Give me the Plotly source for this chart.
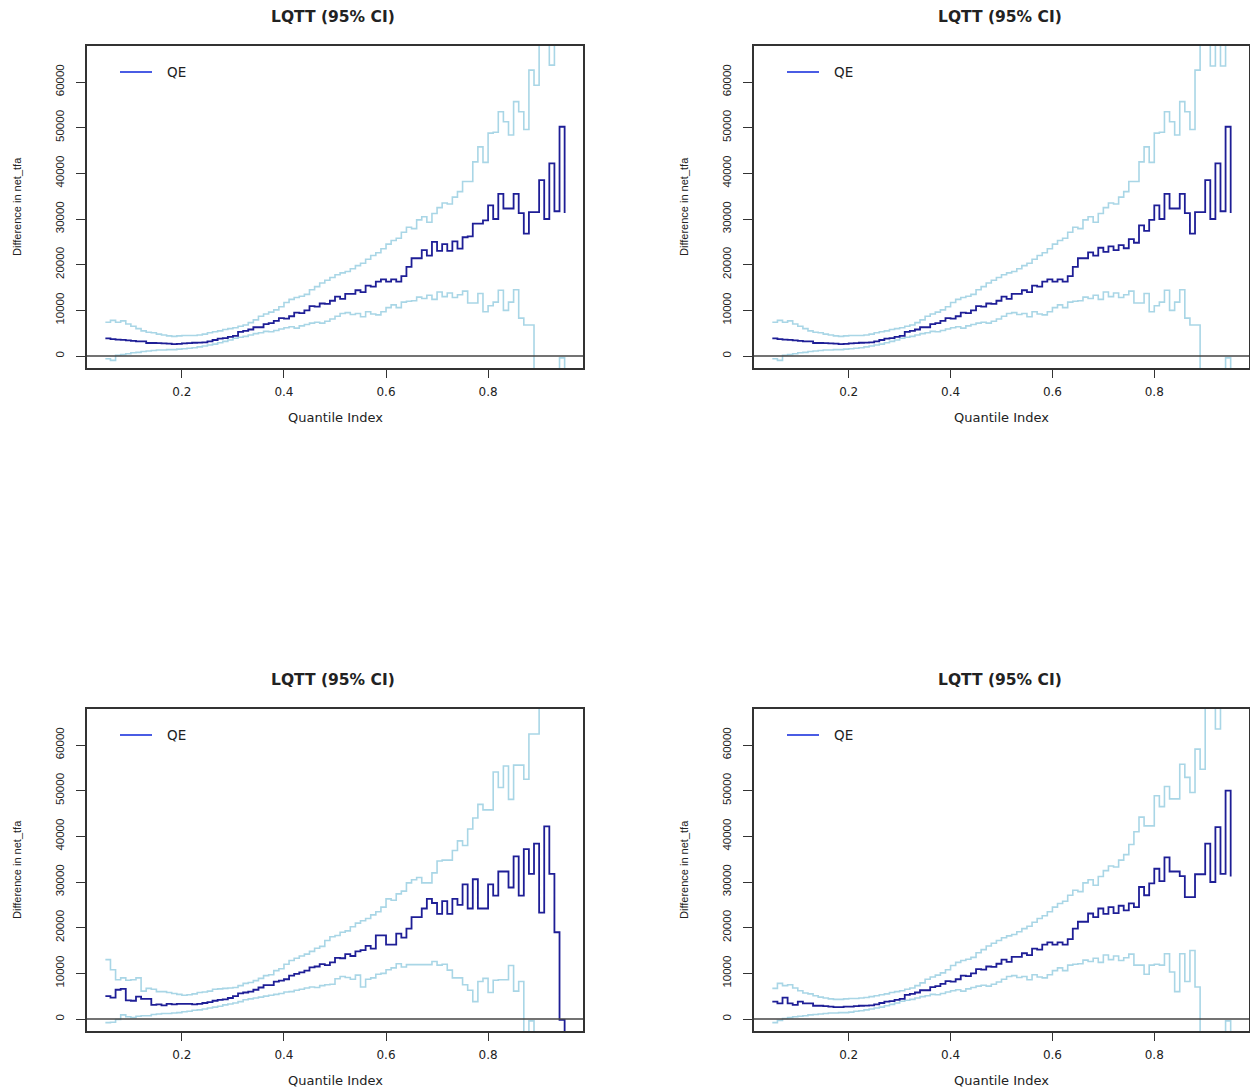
import plotly.graph_objects as go

# ---------------- data ----------------
quantiles = [0.05, 0.06, 0.07, 0.08, 0.09, 0.10, 0.11, 0.12, 0.13, 0.14,
             0.15, 0.16, 0.17, 0.18, 0.19, 0.20, 0.21, 0.22, 0.23, 0.24,
             0.25, 0.26, 0.27, 0.28, 0.29, 0.30, 0.31, 0.32, 0.33, 0.34,
             0.35, 0.36, 0.37, 0.38, 0.39, 0.40, 0.41, 0.42, 0.43, 0.44,
             0.45, 0.46, 0.47, 0.48, 0.49, 0.50, 0.51, 0.52, 0.53, 0.54,
             0.55, 0.56, 0.57, 0.58, 0.59, 0.60, 0.61, 0.62, 0.63, 0.64,
             0.65, 0.66, 0.67, 0.68, 0.69, 0.70, 0.71, 0.72, 0.73, 0.74,
             0.75, 0.76, 0.77, 0.78, 0.79, 0.80, 0.81, 0.82, 0.83, 0.84,
             0.85, 0.86, 0.87, 0.88, 0.89, 0.90, 0.91, 0.92, 0.93, 0.94,
             0.95]

# top-left panel
qe_tl = [3850, 3700, 3600, 3550, 3400, 3300, 3200, 3200, 2850, 2850,
         2800, 2750, 2700, 2600, 2650, 2750, 2800, 2900, 2950, 3000,
         3200, 3500, 3800, 3900, 4200, 4400, 5300, 5500, 5800, 6300,
         6300, 7000, 7200, 7700, 8300, 8200, 8700, 9500, 9400, 10000,
         10900, 10800, 11500, 11400, 12100, 13000, 12500, 13600, 13600, 14400,
         14000, 15400, 15200, 16300, 16800, 16300, 16800, 16300, 17500, 19500,
         21400, 21400, 23200, 22000, 25000, 23000, 24500, 23000, 25100, 23500,
         26000, 26200, 29000, 29000, 29700, 33000, 30000, 35500, 32300, 32300,
         35500, 31300, 26800, 31500, 31500, 38500, 30000, 42200, 31700, 50200,
         31300]
upper_tl = [7400, 7800, 7400, 7700, 7000, 6500, 6000, 5500, 5200, 5100,
            4800, 4600, 4400, 4300, 4400, 4500, 4500, 4500, 4600, 4800,
            5100, 5300, 5500, 5800, 6000, 6200, 6500, 6800, 7300, 7900,
            8700, 9200, 9600, 10100, 10800, 11700, 12400, 12800, 13100, 13500,
            14500, 15200, 16000, 16600, 17200, 17800, 18200, 18500, 19100, 19800,
            20300, 21200, 22000, 22600, 23500, 24500, 25300, 25800, 27100, 28200,
            27900, 29800, 30500, 29300, 31200, 32500, 33500, 33300, 34800, 36000,
            38200, 38200, 42500, 45800, 42400, 48800, 49000, 53500, 51300, 48400,
            55700, 53500, 49600, 62600, 59300, 75000, 75000, 63700, 75000, 75000,
            75000]
lower_tl = [-600, -950, 150, 300, 500, 700, 800, 1000, 1100, 1200,
            1300, 1300, 1400, 1400, 1500, 1600, 1700, 1800, 2000, 2200,
            2400, 2600, 2900, 3200, 3500, 3900, 4100, 4300, 4600, 4900,
            5100, 5400, 5300, 5600, 5900, 6200, 6400, 6100, 6600, 6900,
            7200, 7400, 7200, 7600, 8100, 8700, 9300, 9500, 9100, 9300,
            8600, 9700, 9200, 9000, 9700, 10600, 11200, 10600, 11800, 12000,
            12100, 12900, 12600, 13300, 12400, 14000, 13000, 13800, 12800, 13400,
            14200, 11600, 11600, 13700, 9700, 11000, 11800, 14400, 10000, 11800,
            14500, 8300, 6800, 6800, -8000, -8000, -8000, -8000, -8000, -400,
            -8000]

# top-right panel
qe_tr = [3850, 3700, 3600, 3550, 3400, 3300, 3200, 3200, 2850, 2850,
         2800, 2750, 2700, 2600, 2650, 2750, 2800, 2900, 2950, 3000,
         3200, 3500, 3800, 3900, 4200, 4400, 5300, 5500, 5800, 6300,
         6300, 7000, 7200, 7700, 8300, 8200, 8700, 9500, 9400, 10000,
         10900, 10800, 11500, 11400, 12100, 13000, 12500, 13600, 13600, 14400,
         14000, 15400, 15200, 16300, 16800, 16300, 16800, 16300, 17500, 19500,
         21400, 21400, 22700, 22000, 23700, 22800, 24000, 23200, 24300, 23600,
         25600, 24800, 28600, 27400, 29800, 33000, 30000, 35500, 32300, 32300,
         35500, 31300, 26800, 31500, 31500, 38500, 30000, 42200, 31700, 50200,
         31300]
upper_tr = [7400, 7800, 7400, 7700, 7000, 6500, 6000, 5500, 5200, 5100,
            4800, 4600, 4400, 4300, 4400, 4500, 4500, 4500, 4600, 4800,
            5100, 5300, 5500, 5800, 6000, 6200, 6500, 6800, 7300, 7900,
            8700, 9200, 9600, 10100, 10800, 11700, 12400, 12800, 13100, 13500,
            14500, 15200, 16000, 16600, 17200, 17800, 18200, 18500, 19100, 19800,
            20300, 21200, 22000, 22600, 23500, 24500, 25300, 25800, 27100, 28200,
            27900, 29800, 30500, 29300, 31200, 32500, 33500, 33300, 34800, 36000,
            38200, 38200, 42500, 45800, 42400, 48800, 49000, 53500, 51300, 48400,
            55700, 53500, 49600, 62600, 75000, 75000, 63500, 75000, 63500, 75000,
            75000]
lower_tr = [-600, -950, 150, 300, 500, 700, 800, 1000, 1100, 1200,
            1300, 1300, 1400, 1400, 1500, 1600, 1700, 1800, 2000, 2200,
            2400, 2600, 2900, 3200, 3500, 3900, 4100, 4300, 4600, 4900,
            5100, 5400, 5300, 5600, 5900, 6200, 6400, 6100, 6600, 6900,
            7200, 7400, 7200, 7600, 8100, 8700, 9300, 9500, 9100, 9300,
            8600, 9700, 9200, 9000, 9700, 10600, 11200, 10600, 11800, 12000,
            12100, 12900, 12600, 13300, 12400, 14000, 13000, 13800, 12800, 13400,
            14200, 11600, 11600, 13700, 9700, 11000, 11800, 14400, 10000, 11800,
            14500, 8300, 6800, 6800, -8000, -8000, -8000, -8000, -8000, -400,
            -8000]

# bottom-left panel
qe_bl = [5000, 4700, 6400, 6600, 4100, 4000, 4900, 4400, 4400, 3100,
         3200, 3000, 3300, 3200, 3300, 3300, 3300, 3200, 3300, 3500,
         3700, 4000, 4200, 4300, 4600, 5000, 5600, 5800, 6000, 6400,
         6900, 7400, 7400, 8200, 8400, 8700, 9500, 9900, 10200, 10600,
         11300, 11500, 12000, 11800, 12400, 13400, 13300, 14200, 13800, 14800,
         15100, 16000, 15400, 18300, 18300, 16300, 16300, 18700, 17800, 19800,
         22300, 22300, 24200, 26300, 25400, 23000, 25800, 23000, 26300, 25000,
         29500, 24200, 30600, 24200, 24200, 29500, 27000, 32300, 32300, 28800,
         35600, 27000, 37200, 31800, 38400, 23300, 42200, 31800, 19000, -200,
         -8000]
upper_bl = [13000, 10800, 8600, 9000, 8500, 8600, 9000, 6100, 6700, 6500,
            6000, 6000, 5800, 5600, 5400, 5200, 5300, 5500, 5800, 5900,
            6100, 6500, 6600, 6700, 6800, 6900, 7300, 7800, 8000, 8400,
            8900, 9500, 9700, 10600, 11000, 12000, 12800, 13300, 13800, 14200,
            14800, 15500, 15900, 17200, 18000, 18300, 19000, 19300, 20200, 21000,
            21500, 22000, 22800, 23500, 24500, 26300, 26000, 27400, 28000, 29800,
            30500, 31000, 29800, 29800, 32000, 34600, 34800, 34800, 36900, 39000,
            38000, 41600, 44000, 47000, 45800, 45800, 54100, 50700, 55400, 48100,
            55600, 55600, 52500, 62400, 62400, 75000, 75000, 75000, 75000, 75000,
            75000]
lower_bl = [-800, -700, -100, 900, 500, 300, 600, 700, 700, 1000,
            1100, 1200, 1200, 1300, 1400, 1600, 1700, 1900, 2000, 2200,
            2400, 2600, 2800, 3100, 3300, 3500, 3800, 4200, 4400, 4600,
            4800, 5000, 5200, 5400, 5600, 5900, 6000, 6300, 6500, 6800,
            7000, 6900, 7300, 7500, 7600, 8800, 9300, 9100, 8700, 9600,
            7000, 8700, 9000, 9800, 10000, 10800, 11200, 12100, 11400, 11900,
            11900, 11900, 11900, 11900, 12600, 11800, 12000, 10700, 9000, 9000,
            7500, 6300, 3800, 8200, 8900, 5800, 8500, 8600, 8600, 11700,
            6100, 8200, -8000, -400, -8000, -8000, -8000, -8000, -8000, -8000,
            -8000]

# bottom-right panel
qe_br = [3800, 3400, 4700, 3400, 3100, 3800, 3400, 3400, 2900, 2900,
         2800, 2700, 2600, 2600, 2700, 2700, 2800, 2900, 2950, 3000,
         3200, 3500, 3800, 3900, 4200, 4400, 5300, 5500, 5800, 6300,
         6300, 7000, 7200, 7700, 8300, 8200, 8700, 9500, 9400, 10000,
         10900, 10800, 11500, 11400, 12100, 13000, 12500, 13600, 13600, 14400,
         14000, 15400, 15200, 16300, 16800, 16300, 16800, 16300, 17500, 19800,
         21300, 21300, 23100, 22300, 24200, 23000, 24500, 23200, 24800, 23800,
         25300, 24500, 28900, 27100, 29700, 32900, 30200, 35400, 32300, 32300,
         31300, 26700, 26700, 31700, 31700, 38400, 30000, 42000, 31800, 50000,
         31200]
upper_br = [6700, 7800, 7300, 7500, 6800, 6200, 5700, 5500, 5100, 4800,
            4600, 4400, 4300, 4300, 4400, 4500, 4500, 4600, 4700, 4900,
            5100, 5300, 5500, 5800, 6000, 6200, 6500, 6800, 7300, 7900,
            8700, 9200, 9600, 10100, 10800, 11700, 12400, 12800, 13100, 13500,
            14500, 15200, 16000, 16600, 17200, 17800, 18200, 18500, 19100, 19800,
            20300, 21200, 22000, 22600, 23500, 24500, 25300, 25800, 27100, 28200,
            27900, 29800, 30500, 29300, 31200, 32500, 33500, 33300, 34800, 36000,
            38200, 41000, 44200, 42300, 42300, 48900, 46500, 50900, 48200, 48200,
            55800, 52900, 49600, 59100, 54700, 75000, 75000, 63500, 75000, 75000,
            75000]
lower_br = [-800, -300, 100, 300, 500, 600, 700, 900, 1000, 1100,
            1200, 1300, 1300, 1400, 1400, 1500, 1700, 1800, 2000, 2200,
            2400, 2600, 2900, 3200, 3500, 3900, 4100, 4300, 4600, 4900,
            5100, 5400, 5300, 5600, 5900, 6200, 6400, 6100, 6600, 6900,
            7200, 7400, 7200, 7600, 8100, 8700, 9300, 9500, 9100, 9300,
            8600, 9700, 9200, 9000, 9700, 10600, 11200, 10600, 11800, 12000,
            12100, 12900, 12600, 13300, 12400, 14000, 13000, 13800, 12800, 13400,
            14200, 11800, 11800, 9800, 11800, 12000, 11800, 14300, 10300, 6000,
            14300, 8200, 15000, 7000, -8000, -8000, -8000, -8000, -8000, -400,
            -8000]

y_tick_vals = [0, 10000, 20000, 30000, 40000, 50000, 60000]
y_tick_text = ["0", "10000", "20000", "30000", "40000", "50000", "60000"]
x_tick_vals = [0.2, 0.4, 0.6, 0.8]
x_tick_text = ["0.2", "0.4", "0.6", "0.8"]
panel_title = "LQTT (95% CI)"
x_label = "Quantile Index"
y_label = "Difference in net_tfa"
legend_label = "QE"

# ---------------- styling / layout ----------------
W, H = 1250, 1088
FONT = "DejaVu Sans"
TXT = "#222222"
QE_COLOR = "#1e1e96"
CI_COLOR = "#a9d6e6"
LEG_COLOR = "#4a5ce4"

# panel boxes in pixels: left, top, right, bottom
boxes = [(87, 46, 583, 368), (754, 46, 1249, 368),
         (87, 709, 583, 1031), (754, 709, 1249, 1031)]
series = [(qe_tl, upper_tl, lower_tl), (qe_tr, upper_tr, lower_tr),
          (qe_bl, upper_bl, lower_bl), (qe_br, upper_br, lower_br)]


def px(x):
    return x / W


def py(y):
    return 1 - y / H


fig = go.Figure()
layout = dict(width=W, height=H, margin=dict(l=0, r=0, t=0, b=0),
              paper_bgcolor="white", plot_bgcolor="white", showlegend=False)
annotations = []
shapes = []

for i, ((l, t, r, b), (qe, up, lo)) in enumerate(zip(boxes, series)):
    n = i + 1
    xa = "x" if n == 1 else f"x{n}"
    ya = "y" if n == 1 else f"y{n}"
    xk = "xaxis" if n == 1 else f"xaxis{n}"
    yk = "yaxis" if n == 1 else f"yaxis{n}"

    for ci in (lo, up):
        fig.add_trace(go.Scatter(x=quantiles, y=ci, mode="lines", line_shape="hv",
                                 line=dict(color=CI_COLOR, width=1.6),
                                 xaxis=xa, yaxis=ya, hoverinfo="skip"))
    fig.add_trace(go.Scatter(x=quantiles, y=qe, mode="lines", line_shape="hv",
                             line=dict(color=QE_COLOR, width=1.8),
                             xaxis=xa, yaxis=ya, name=legend_label))

    layout[xk] = dict(domain=[px(l), px(r)], anchor=ya, range=[0.014, 0.986],
                      tickvals=x_tick_vals, ticktext=x_tick_text,
                      ticks="outside", ticklen=8, tickwidth=1.2, tickcolor="#333",
                      showline=True, mirror=True, linecolor="#333", linewidth=1.5,
                      showgrid=False, zeroline=False, ticklabelstandoff=4,
                      tickfont=dict(family=FONT, size=12, color=TXT))
    layout[yk] = dict(domain=[py(b), py(t)], anchor=xa, range=[-2628, 67883],
                      tickvals=y_tick_vals, ticktext=y_tick_text, tickangle=-90,
                      ticks="outside", ticklen=9, tickwidth=1.2, tickcolor="#333",
                      showline=True, mirror=True, linecolor="#333", linewidth=1.5,
                      showgrid=False, zeroline=False, ticklabelstandoff=8,
                      tickfont=dict(family="Liberation Sans", size=11.5, color=TXT))

    # zero reference line
    shapes.append(dict(type="line", xref=f"{xa} domain", yref=ya, x0=0, x1=1,
                       y0=0, y1=0, line=dict(color="#444", width=1.5)))
    # legend
    shapes.append(dict(type="line", xref="paper", yref="paper",
                       x0=px(l + 33), x1=px(l + 65), y0=py(t + 26), y1=py(t + 26),
                       line=dict(color=LEG_COLOR, width=2)))
    annotations.append(dict(text=legend_label, xref="paper", yref="paper",
                            x=px(l + 78), y=py(t + 26), xanchor="left", yanchor="middle",
                            showarrow=False, font=dict(family=FONT, size=13.5, color=TXT)))
    cx = (l + r) / 2
    annotations.append(dict(text=f"<b>{panel_title}</b>", xref="paper", yref="paper",
                            x=px(cx - 2), y=py(t - 29), xanchor="center", yanchor="middle",
                            showarrow=False, font=dict(family=FONT, size=15.5, color=TXT)))
    annotations.append(dict(text=x_label, xref="paper", yref="paper",
                            x=px(cx), y=py(b + 49), xanchor="center", yanchor="middle",
                            showarrow=False, font=dict(family=FONT, size=13, color=TXT)))
    annotations.append(dict(text=y_label, xref="paper", yref="paper",
                            x=px(l - 70), y=py((t + b) / 2), xanchor="center", yanchor="middle",
                            textangle=-90, showarrow=False,
                            font=dict(family="Liberation Sans", size=11, color=TXT)))

layout["annotations"] = annotations
layout["shapes"] = shapes
fig.update_layout(**layout)
fig.write_html("out.html")
